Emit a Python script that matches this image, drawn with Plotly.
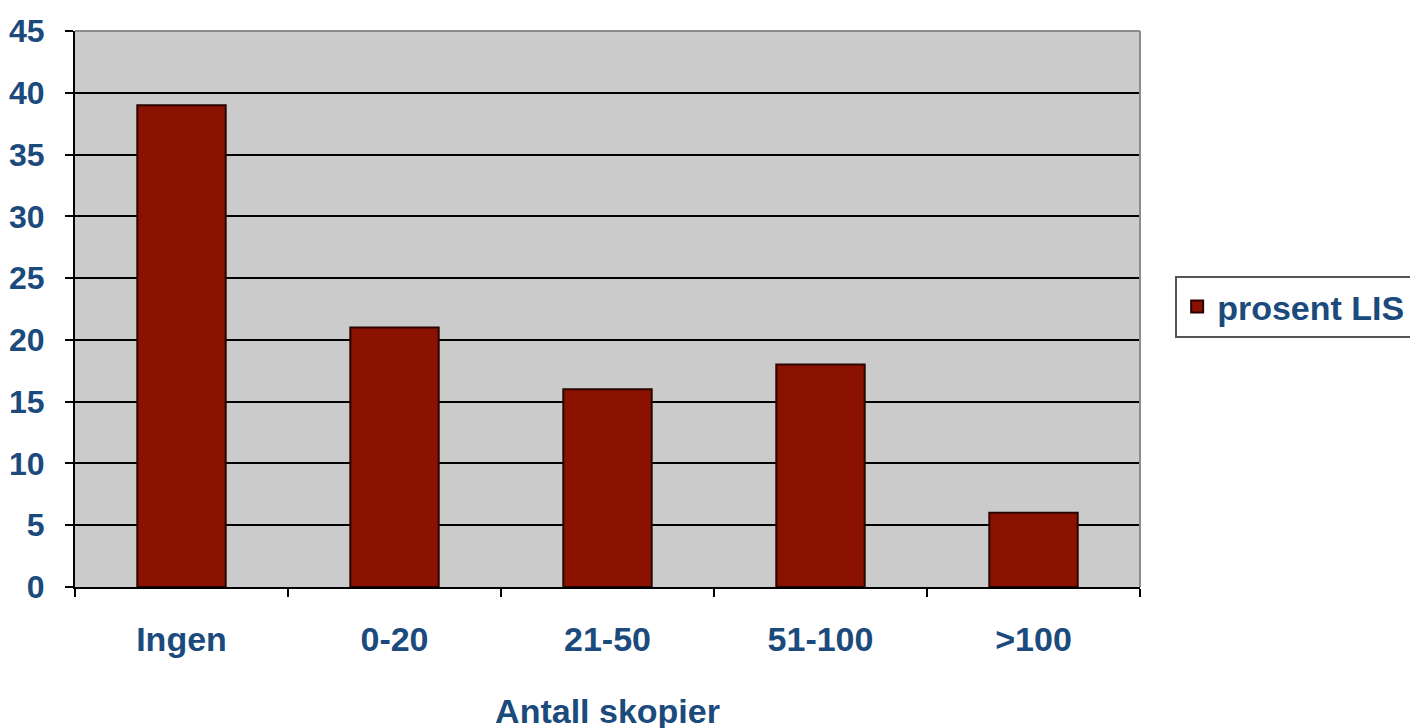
import plotly.graph_objects as go

categories = ["Ingen", "0-20", "21-50", "51-100", ">100"]
values = [39, 21, 16, 18, 6]
series_name = "prosent LIS"
y_ticks = [0, 5, 10, 15, 20, 25, 30, 35, 40, 45]
x_title = "Antall skopier"

text_color = "#1b4a7c"
font_family = "Liberation Sans, Arial, sans-serif"
fsize = 32
fbig = 34

fig = go.Figure()
fig.add_trace(go.Bar(
    x=categories, y=values, name=series_name,
    marker=dict(color="#8b1200", line=dict(color="#2a0500", width=2)),
    showlegend=True,
))

fig.update_layout(
    width=1418, height=728,
    margin=dict(l=67, r=286, t=23, b=149, autoexpand=False),
    paper_bgcolor="white",
    plot_bgcolor="#cbcbcb",
    bargap=0.585,
    font=dict(family=font_family, color=text_color, size=fsize),
    showlegend=True,
    legend=dict(
        x=1.033, y=0.504, xanchor="left", yanchor="middle",
        bgcolor="white", bordercolor="#555555", borderwidth=2,
        font=dict(family=font_family, size=fbig, color=text_color, weight="bold"),
        itemwidth=30, tracegroupgap=0,
    ),
)

fig.update_yaxes(
    range=[0, 45], tickvals=y_ticks, ticktext=[str(v) for v in y_ticks],
    showgrid=True, gridcolor="black", gridwidth=2,
    showline=True, linecolor="black", linewidth=2,
    ticks="outside", ticklen=8, tickcolor="black", tickwidth=2,
    tickfont=dict(family=font_family, size=fsize, color=text_color, weight="bold"),
    ticklabelstandoff=14,
    zeroline=False, fixedrange=True, automargin=False,
)
fig.update_xaxes(
    showline=True, linecolor="black", linewidth=2,
    ticks="outside", ticklen=8, tickcolor="black", tickwidth=2,
    tickson="boundaries",
    tickfont=dict(family=font_family, size=fbig, color=text_color, weight="bold"),
    ticklabelstandoff=21,
    title=dict(text=x_title, font=dict(family=font_family, size=fbig, color=text_color, weight="bold"), standoff=42),
    showgrid=False, fixedrange=True, automargin=False,
)

# right and top border of the plot area
fig.add_shape(type="line", xref="paper", yref="paper", x0=1, x1=1, y0=0, y1=1,
              line=dict(color="#8c8c8c", width=2))
fig.add_shape(type="line", xref="paper", yref="paper", x0=0, x1=1, y0=1, y1=1,
              line=dict(color="#8c8c8c", width=2))

fig.write_html("out.html")
